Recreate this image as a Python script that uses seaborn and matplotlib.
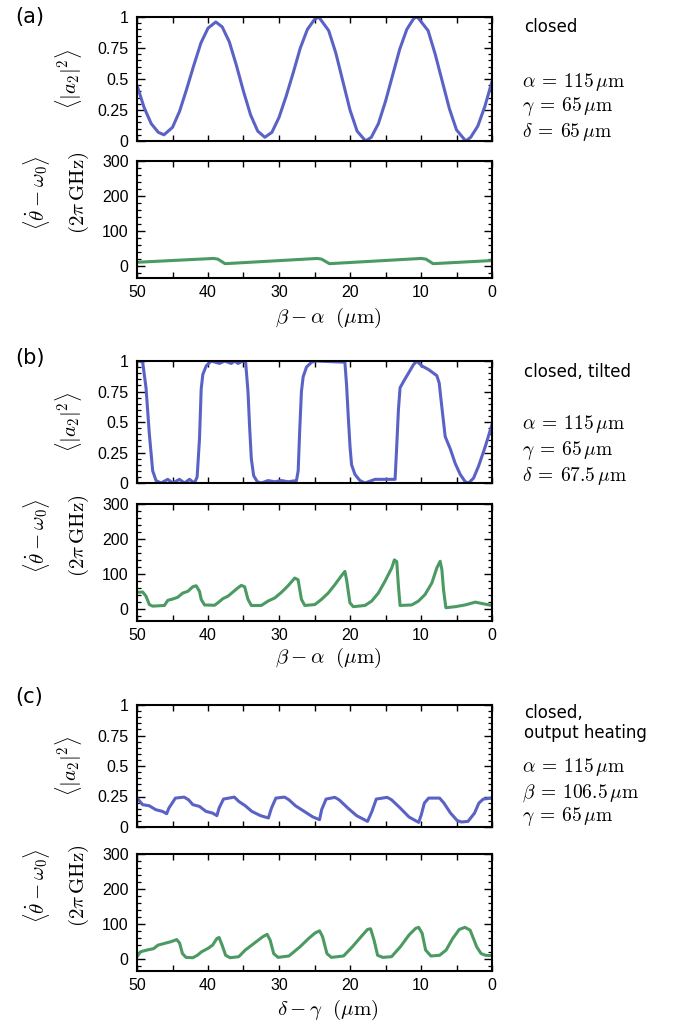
import matplotlib
matplotlib.use("Agg")
import matplotlib.pyplot as plt
import seaborn as sns
import pandas as pd
from matplotlib.ticker import MultipleLocator, FixedLocator, FuncFormatter

# ---------------- data ----------------
# (a) closed
a_top_x = [50, 49, 48, 47, 46.2, 45, 44, 43, 42, 41, 40, 38.9, 38, 37, 36, 35, 34, 33, 32, 31, 30, 29, 28,
           27, 26, 25, 24.4, 23, 22, 21, 20, 19, 17.8, 17, 16, 15, 14, 13, 12, 11, 10.5, 9, 8, 7, 6, 5, 3.7,
           3, 2, 1, 0]
a_top_y = [0.45, 0.27, 0.14, 0.07, 0.05, 0.11, 0.24, 0.42, 0.61, 0.79, 0.91, 0.96, 0.92, 0.80, 0.61, 0.40,
           0.21, 0.08, 0.03, 0.07, 0.19, 0.36, 0.55, 0.75, 0.90, 0.98, 1.0, 0.89, 0.71, 0.48, 0.25, 0.08, 0.0,
           0.03, 0.14, 0.32, 0.53, 0.74, 0.90, 0.99, 1.0, 0.89, 0.70, 0.48, 0.26, 0.09, 0.0, 0.03, 0.12, 0.28,
           0.48]
a_bot_x = [50, 39.2, 38.6, 37.6, 24.6, 24.0, 22.9, 10.0, 9.3, 8.3, 0]
a_bot_y = [10, 21, 19, 6, 21, 19, 6, 21, 19, 6, 15]

# (b) closed, tilted
b_top_x = [50, 49.67, 49.2, 48.73, 48.26, 47.79, 47.32, 46.61, 45.67, 44.96, 44.02, 43.31, 42.61, 41.9,
           41.53, 41.2, 40.96, 40.73, 40.25, 39.55, 38.37, 37.66, 36.72, 36.25, 35.78, 35.08, 34.7, 34.37,
           34.13, 33.9, 33.57, 33.05, 32.49, 31.54, 30.6, 29.66, 28.72, 27.54, 27.3, 27.07, 26.84, 26.6,
           26.13, 25.42, 24.72, 20.72, 20.48, 20.25, 20.0, 19.78, 19.3, 18.6, 17.89, 16.48, 13.65, 13.42,
           13.18, 12.95, 12.48, 11.77, 11.06, 10.59, 9.89, 8.94, 7.77, 7.44, 7.06, 6.59, 5.88, 5.18, 4.47,
           3.77, 3.3, 2.6, 1.88, 0.94, 0]
b_top_y = [1.0, 1.0, 0.99, 0.78, 0.40, 0.10, 0.02, 0.0, 0.03, 0.0, 0.03, 0.0, 0.03, 0.0, 0.05, 0.36, 0.77,
           0.89, 0.96, 1.0, 0.98, 1.0, 0.98, 1.0, 0.98, 1.0, 0.99, 0.75, 0.45, 0.2, 0.06, 0.01, 0.0, 0.02,
           0.01, 0.02, 0.01, 0.02, 0.1, 0.45, 0.75, 0.87, 0.95, 0.99, 1.0, 0.99, 0.8, 0.55, 0.3, 0.15, 0.07,
           0.02, 0.0, 0.03, 0.03, 0.3, 0.6, 0.78, 0.83, 0.9, 0.97, 1.0, 0.96, 0.93, 0.88, 0.82, 0.62, 0.38,
           0.28, 0.16, 0.07, 0.01, 0.0, 0.04, 0.14, 0.3, 0.48]
b_bot_x = [50, 49.2, 48.73, 48.26, 47.79, 46.14, 45.67, 44.96, 44.26, 43.55, 42.84, 42.14, 41.67, 41.2,
           40.96, 40.49, 39.08, 38.61, 37.9, 37.19, 36.49, 35.78, 35.31, 34.84, 34.37, 33.9, 32.49, 31.54,
           30.6, 29.66, 28.72, 27.78, 27.31, 26.84, 26.37, 24.95, 24.01, 23.07, 22.13, 21.19, 20.72, 20.48,
           20.01, 19.54, 17.89, 16.95, 16.01, 15.07, 14.12, 13.75, 13.42, 13.18, 12.95, 11.3, 10.36, 9.42,
           8.47, 7.77, 7.3, 7.06, 6.83, 6.5, 5.18, 3.77, 2.35, 1.41, 0]
b_bot_y = [47, 48, 36, 12, 7.6, 9.5, 24, 28, 33, 45, 50, 63, 66, 50, 27, 11, 10, 17, 29, 36, 48, 60, 67, 63,
           27, 9.5, 9.5, 22, 31, 47, 66, 88, 83, 27, 9.5, 12, 27, 45, 69, 95, 107, 83, 17, 6, 9.5, 22, 45, 79,
           117, 140, 135, 65, 9.5, 11, 22, 41, 74, 117, 136, 112, 55, 3, 6, 11, 19, 15, 9.5]

# (c) closed, output heating
c_top_x = [50, 49.2, 48.28, 47.36, 46.43, 45.82, 45.51, 44.59, 43.36, 42.74, 42.13, 41.21, 40.28, 39.36,
           38.75, 38.44, 37.82, 36.29, 35.67, 34.75, 33.83, 32.6, 31.49, 31.06, 30.44, 29.21, 28.6, 27.68,
           26.45, 25.22, 24.29, 23.99, 23.37, 22.14, 21.53, 20.3, 19.07, 17.53, 16.91, 16.3, 14.76, 14.15,
           12.92, 11.69, 10.33, 9.96, 9.53, 8.92, 7.38, 6.77, 5.84, 4.92, 4.31, 3.38, 2.46, 1.85, 1.23, 0]
c_top_y = [0.237, 0.183, 0.174, 0.142, 0.128, 0.109, 0.155, 0.237, 0.245, 0.223, 0.183, 0.169, 0.128, 0.114,
           0.093, 0.155, 0.229, 0.245, 0.21, 0.174, 0.128, 0.093, 0.074, 0.155, 0.237, 0.245, 0.223, 0.174,
           0.128, 0.082, 0.06, 0.142, 0.229, 0.243, 0.223, 0.155, 0.093, 0.046, 0.128, 0.229, 0.243, 0.223,
           0.155, 0.082, 0.038, 0.10, 0.196, 0.237, 0.237, 0.196, 0.114, 0.054, 0.041, 0.046, 0.114, 0.196,
           0.229, 0.237]
c_bot_x = [50, 49.51, 48.59, 47.66, 47.05, 46.13, 45.2, 44.4, 44.0, 43.6, 43.1, 42.13, 41.51, 40.9, 39.98,
           39.36, 38.75, 38.44, 38.01, 37.52, 36.9, 35.67, 34.75, 33.52, 32.29, 31.67, 31.24, 30.75, 30.14,
           28.6, 27.06, 25.83, 24.91, 24.29, 23.86, 23.25, 22.63, 20.91, 19.68, 18.45, 17.53, 17.1, 16.61,
           16.11, 15.38, 14.15, 12.92, 11.69, 10.76, 10.33, 9.84, 9.35, 8.61, 7.38, 6.46, 5.54, 4.61, 3.81,
           3.08, 2.15, 1.54, 0.92, 0]
c_bot_y = [6, 20, 25, 29, 39, 44, 49, 55, 45, 15, 4, 3, 10, 20, 30, 39, 58, 61, 39, 10, 3, 6, 25, 44, 63, 70,
           53, 15, 4, 8, 34, 58, 74, 80, 63, 15, 4, 8, 34, 63, 84, 86, 53, 10, 4, 6, 34, 68, 87, 90, 73, 25, 8,
           10, 25, 58, 84, 90, 82, 34, 15, 10, 9]

panel_letters = ["(a)", "(b)", "(c)"]
panel_titles = [["closed"], ["closed, tilted"], ["closed,", "output heating"]]
panel_params = [
    [r"$\alpha\:=\:115\,\mu\mathrm{m}$", r"$\gamma\:=\:65\,\mu\mathrm{m}$", r"$\delta\:=\:65\,\mu\mathrm{m}$"],
    [r"$\alpha\:=\:115\,\mu\mathrm{m}$", r"$\gamma\:=\:65\,\mu\mathrm{m}$", r"$\delta\:=\:67.5\,\mu\mathrm{m}$"],
    [r"$\alpha\:=\:115\,\mu\mathrm{m}$", r"$\beta\:=\:106.5\,\mu\mathrm{m}$", r"$\gamma\:=\:65\,\mu\mathrm{m}$"],
]
panel_xlabels = [r"$\beta - \alpha\ \ (\mu\mathrm{m})$", r"$\beta - \alpha\ \ (\mu\mathrm{m})$",
                 r"$\delta - \gamma\ \ (\mu\mathrm{m})$"]
top_ylabel = r"$\langle |a_2|^2 \rangle$"
bot_ylabel1 = r"$\langle \dot{\theta} - \omega_0 \rangle$"
bot_ylabel2 = r"$(2\pi\,\mathrm{GHz})$"
top_yticks = [0, 0.25, 0.5, 0.75, 1]
bot_yticks = [0, 100, 200, 300]

# ---------------- style ----------------
sns.set_style("ticks")
plt.rcParams["font.family"] = ["Liberation Sans", "DejaVu Sans"]
plt.rcParams["mathtext.fontset"] = "cm"
for k in ["text.color", "axes.labelcolor", "xtick.color", "ytick.color", "axes.edgecolor"]:
    plt.rcParams[k] = "black"

BLUE = "#5a62c6"
GREEN = "#4a9a62"

W, H = 684, 1026
fig = plt.figure(figsize=(W / 100, H / 100), dpi=100)


def fx(px):
    return px / W


def fy(py):
    return 1 - py / H


L, R = 137, 492
boxes = [((17, 141), (161, 278)), ((361, 483), (504, 621)), ((705, 827), (854, 971))]
text_y = [
    dict(letter=17, title=[27], params=[82, 107, 132]),
    dict(letter=358, title=[372], params=[424, 450, 476]),
    dict(letter=697, title=[713, 733], params=[767, 793, 817]),
]
xlabel_y = [318, 658, 1010]

data = [((a_top_x, a_top_y), (a_bot_x, a_bot_y)),
        ((b_top_x, b_top_y), (b_bot_x, b_bot_y)),
        ((c_top_x, c_top_y), (c_bot_x, c_bot_y))]


def style_axes(ax, upper):
    ax.set_xlim(50, 0)
    ax.xaxis.set_major_locator(MultipleLocator(10))
    ax.xaxis.set_minor_locator(MultipleLocator(5))
    if upper:
        ax.set_ylim(0, 1)
        ax.yaxis.set_major_locator(FixedLocator(top_yticks))
        ax.yaxis.set_minor_locator(MultipleLocator(0.05))
        ax.yaxis.set_major_formatter(FuncFormatter(lambda v, p: f"{v:g}"))
        ax.tick_params(labelbottom=False)
    else:
        ax.set_ylim(-35, 300)
        ax.yaxis.set_major_locator(FixedLocator(bot_yticks))
        ax.yaxis.set_minor_locator(MultipleLocator(20))
        ax.xaxis.set_major_formatter(FuncFormatter(lambda v, p: f"{v:g}"))
    ax.tick_params(which="both", direction="in", top=True, right=True, colors="black")
    ax.tick_params(axis="y", which="major", length=6, width=1.0, pad=6, labelsize=11.5)
    ax.tick_params(axis="y", which="minor", length=3, width=0.9)
    ax.tick_params(axis="x", which="both", length=4, width=1.0, pad=5, labelsize=11.5)
    for s in ax.spines.values():
        s.set_linewidth(1.5)
        s.set_color("black")
    ax.set_xlabel("")
    ax.set_ylabel("")


for i in range(3):
    (tt, tb), (bt, bb) = boxes[i]
    ax1 = fig.add_axes([fx(L), fy(tb), fx(R - L), (tb - tt) / H])
    ax2 = fig.add_axes([fx(L), fy(bb), fx(R - L), (bb - bt) / H])
    (x1, y1), (x2, y2) = data[i]
    sns.lineplot(x=x1, y=y1, ax=ax1, color=BLUE, linewidth=2.2)
    sns.lineplot(x=x2, y=y2, ax=ax2, color=GREEN, linewidth=2.2)
    style_axes(ax1, True)
    style_axes(ax2, False)

    # y labels
    fig.text(fx(68), fy((tt + tb) / 2), top_ylabel, rotation=90, ha="center", va="center", fontsize=15)
    fig.text(fx(37), fy(bt + 32), bot_ylabel1, rotation=90, ha="center", va="center", fontsize=15)
    fig.text(fx(79), fy(bt + 32), bot_ylabel2, rotation=90, ha="center", va="center", fontsize=15)
    # x label
    fig.text(fx(328), fy(xlabel_y[i]), panel_xlabels[i], ha="center", va="center", fontsize=15)

    ty = text_y[i]
    fig.text(fx(15), fy(ty["letter"]), panel_letters[i], ha="left", va="center", fontsize=15,
             family="DejaVu Sans")
    for t, yy in zip(panel_titles[i], ty["title"]):
        fig.text(fx(524), fy(yy), t, ha="left", va="center", fontsize=12, family="DejaVu Sans")
    for t, yy in zip(panel_params[i], ty["params"]):
        fig.text(fx(522), fy(yy), t, ha="left", va="center", fontsize=14)

fig.savefig("out.png", dpi=100, facecolor="white")
